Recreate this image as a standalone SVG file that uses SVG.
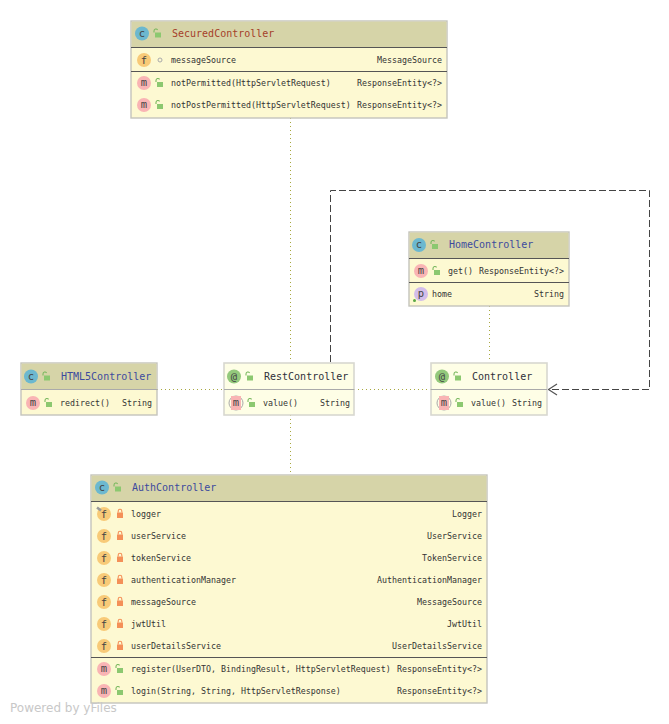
<svg xmlns="http://www.w3.org/2000/svg" width="669" height="724" viewBox="0 0 669 724">
<style>
text{font-family:"DejaVu Sans Mono","Liberation Mono",monospace;font-size:8.3px;fill:#333}
.t{font-size:10px}
.blue{fill:#3c4a9e}.red{fill:#a5402a}.dark{fill:#30303a}
.r{text-anchor:end}
.b{text-anchor:middle;font-size:10.500px;fill:#444}
.box{fill:#fdf9d2;stroke:#c4c4bc;stroke-width:1.4}
.ann{fill:#fefee6;stroke:#d8d8d0;stroke-width:1.6}
.hd{fill:#d6d4a8}
.ln{stroke:#555;stroke-width:1;fill:none}
.ln2{stroke:#aaa;stroke-width:1;fill:none}
.dot{stroke:#a8a840;stroke-width:1;stroke-dasharray:1 3;fill:none}
.dash{stroke:#444;stroke-width:1;stroke-dasharray:7 3;fill:none}
.cc{fill:#6cb8cf}.cf{fill:#f8ca78}.cm{fill:#f9b4b4}.cp{fill:#d3bdea}.ca{fill:#93c97c}
</style>
<defs>
<g id="open"><rect x="-3" y="-1" width="6" height="5" fill="#8cc870"/><path d="M-3-1.500V-3a2 2 0 0 1 3.600-1.200" fill="none" stroke="#7ab85f" stroke-width="1.100" transform="translate(-1,0.500)"/></g>
<g id="lock"><rect x="-3" y="-1.500" width="6" height="5.500" fill="#f49058"/><path d="M-1.800-1.500V-3a1.800 1.800 0 0 1 3.600 0V-1.500" fill="none" stroke="#f49058" stroke-width="1.100"/></g>
<marker id="arr" markerUnits="userSpaceOnUse" markerWidth="12" markerHeight="14" refX="10" refY="7" orient="auto"><path d="M1 1.500L9.500 7L1 12.500" fill="none" stroke="#555" stroke-width="1.200"/></marker>
</defs>

<g id="connectors">
<path class="dot" d="M290.500 118V362"/>
<path class="dot" d="M290.500 415V475"/>
<path class="dot" d="M157 389.500H223"/>
<path class="dot" d="M354 389.500H431"/>
<path class="dot" d="M489.500 306V362"/>
<path class="dash" d="M330.500 362V190.500H649.500V389.500H548" marker-end="url(#arr)"/>
</g>

<g id="SecuredController">
<rect class="box" x="131" y="21" width="316" height="97"/>
<rect class="hd" x="131.700" y="21.700" width="314.600" height="25.300"/>
<path class="ln" d="M131 47.500H447"/><path class="ln" d="M131 71.500H447"/>
<circle class="cc" cx="142" cy="33.500" r="7"/><text class="b" x="142" y="36.500">c</text>
<use href="#open" x="158" y="33.500"/>
<text class="t red" x="172" y="36.500">SecuredController</text>
<circle class="cf" cx="144" cy="60" r="7"/><text class="b" x="144" y="63.500">f</text>
<circle cx="160" cy="60" r="2" fill="none" stroke="#aaa" stroke-width="1"/>
<text x="171" y="63">messageSource</text><text class="r" x="442" y="63">MessageSource</text>
<circle class="cm" cx="144" cy="83" r="7"/><text class="b" x="144" y="86">m</text>
<use href="#open" x="160" y="83"/>
<text x="171" y="86">notPermitted(HttpServletRequest)</text><text class="r" x="442" y="86">ResponseEntity&lt;?&gt;</text>
<circle class="cm" cx="144" cy="105" r="7"/><text class="b" x="144" y="108">m</text>
<use href="#open" x="160" y="105"/>
<text x="171" y="108">notPostPermitted(HttpServletRequest)</text><text class="r" x="442" y="108">ResponseEntity&lt;?&gt;</text>
</g>

<g id="HomeController">
<rect class="box" x="409" y="232" width="160" height="74"/>
<rect class="hd" x="409.700" y="232.700" width="158.600" height="25.300"/>
<path class="ln" d="M409 258.500H569"/><path class="ln" d="M409 282.500H569"/>
<circle class="cc" cx="419" cy="245" r="7"/><text class="b" x="419" y="248">c</text>
<use href="#open" x="435" y="245"/>
<text class="t blue" x="449" y="248">HomeController</text>
<circle class="cm" cx="421" cy="271" r="7"/><text class="b" x="421" y="274">m</text>
<use href="#open" x="437" y="271"/>
<text x="448" y="274">get()</text><text class="r" x="564" y="274">ResponseEntity&lt;?&gt;</text>
<circle class="cp" cx="421" cy="294" r="7"/><text class="b" x="421" y="297">p</text>
<circle cx="414.500" cy="300.500" r="1.500" fill="#5aa845"/>
<text x="432" y="297">home</text><text class="r" x="564" y="297">String</text>
</g>

<g id="HTML5Controller">
<rect class="box" x="21" y="363" width="136" height="52"/>
<rect class="hd" x="21.700" y="363.700" width="134.600" height="25.300"/>
<path class="ln2" d="M21 389.500H157"/>
<circle class="cc" cx="31" cy="376.500" r="7"/><text class="b" x="31" y="379.500">c</text>
<use href="#open" x="47" y="376.500"/>
<text class="t blue" x="61" y="380">HTML5Controller</text>
<circle class="cm" cx="33" cy="403" r="7"/><text class="b" x="33" y="406">m</text>
<use href="#open" x="49" y="403"/>
<text x="60" y="406">redirect()</text><text class="r" x="152" y="406">String</text>
</g>

<g id="RestController">
<rect class="ann" x="224" y="363" width="130" height="52"/>
<path class="ln2" d="M224 389.500H354"/>
<circle class="ca" cx="234" cy="376.500" r="7"/><text class="b" x="234" y="379.500">@</text>
<use href="#open" x="250" y="376.500"/>
<text class="t dark" x="264" y="380">RestController</text>
<circle cx="236" cy="403" r="7" fill="none" stroke="#aaa" stroke-width="1"/><rect class="cm" x="231" y="396" width="10" height="14"/><text class="b" x="236" y="406">m</text>
<use href="#open" x="252" y="403"/>
<text x="263" y="406">value()</text><text class="r" x="350" y="406">String</text>
</g>

<g id="Controller">
<rect class="ann" x="431" y="363" width="116" height="52"/>
<path class="ln2" d="M431 389.500H547"/>
<circle class="ca" cx="442" cy="376.500" r="7"/><text class="b" x="442" y="379.500">@</text>
<use href="#open" x="458" y="376.500"/>
<text class="t dark" x="472" y="380">Controller</text>
<circle cx="444" cy="403" r="7" fill="none" stroke="#aaa" stroke-width="1"/><rect class="cm" x="439" y="396" width="10" height="14"/><text class="b" x="444" y="406">m</text>
<use href="#open" x="460" y="403"/>
<text x="471" y="406">value()</text><text class="r" x="542" y="406">String</text>
</g>

<g id="AuthController">
<rect class="box" x="91" y="475" width="396" height="228"/>
<rect class="hd" x="91.700" y="475.700" width="394.600" height="25.300"/>
<path class="ln" d="M91 501.500H487"/><path class="ln" d="M91 657.500H487"/>
<circle class="cc" cx="102" cy="487.500" r="7"/><text class="b" x="102" y="490.500">c</text>
<use href="#open" x="118" y="487.500"/>
<text class="t blue" x="132" y="491">AuthController</text>
<circle class="cf" cx="104" cy="514" r="7"/><text class="b" x="104" y="517.500">f</text>
<path d="M97 507.500l4 3" stroke="#999" stroke-width="2.500" fill="none"/>
<use href="#lock" x="120" y="514"/>
<text x="131" y="517">logger</text><text class="r" x="482" y="517">Logger</text>
<circle class="cf" cx="104" cy="536" r="7"/><text class="b" x="104" y="539.500">f</text>
<use href="#lock" x="120" y="536"/>
<text x="131" y="539">userService</text><text class="r" x="482" y="539">UserService</text>
<circle class="cf" cx="104" cy="558" r="7"/><text class="b" x="104" y="561.500">f</text>
<use href="#lock" x="120" y="558"/>
<text x="131" y="561">tokenService</text><text class="r" x="482" y="561">TokenService</text>
<circle class="cf" cx="104" cy="580" r="7"/><text class="b" x="104" y="583.500">f</text>
<use href="#lock" x="120" y="580"/>
<text x="131" y="583">authenticationManager</text><text class="r" x="482" y="583">AuthenticationManager</text>
<circle class="cf" cx="104" cy="602" r="7"/><text class="b" x="104" y="605.500">f</text>
<use href="#lock" x="120" y="602"/>
<text x="131" y="605">messageSource</text><text class="r" x="482" y="605">MessageSource</text>
<circle class="cf" cx="104" cy="624" r="7"/><text class="b" x="104" y="627.500">f</text>
<use href="#lock" x="120" y="624"/>
<text x="131" y="627">jwtUtil</text><text class="r" x="482" y="627">JwtUtil</text>
<circle class="cf" cx="104" cy="646" r="7"/><text class="b" x="104" y="649.500">f</text>
<use href="#lock" x="120" y="646"/>
<text x="131" y="649">userDetailsService</text><text class="r" x="482" y="649">UserDetailsService</text>
<circle class="cm" cx="104" cy="669" r="7"/><text class="b" x="104" y="672">m</text>
<use href="#open" x="120" y="669"/>
<text x="131" y="672">register(UserDTO, BindingResult, HttpServletRequest)</text><text class="r" x="482" y="672">ResponseEntity&lt;?&gt;</text>
<circle class="cm" cx="104" cy="691" r="7"/><text class="b" x="104" y="694">m</text>
<use href="#open" x="120" y="691"/>
<text x="131" y="694">login(String, String, HttpServletResponse)</text><text class="r" x="482" y="694">ResponseEntity&lt;?&gt;</text>
</g>

<text x="10" y="712" style="font-family:'DejaVu Sans',sans-serif;font-size:12px;fill:#c8c8c8">Powered by yFiles</text>
</svg>
